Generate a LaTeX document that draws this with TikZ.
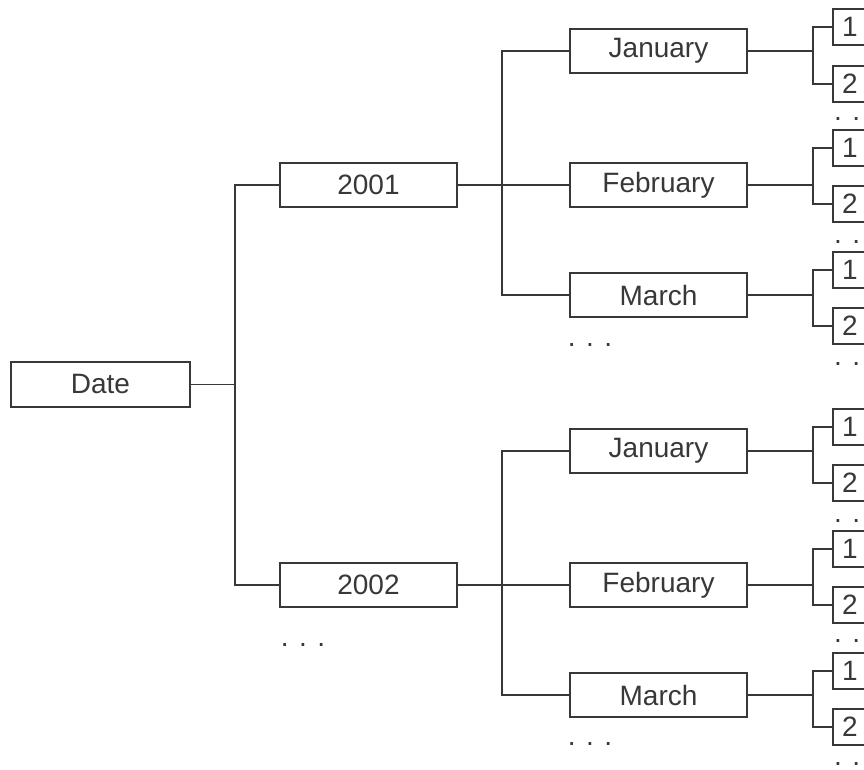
\documentclass[tikz,border=0pt]{standalone}
\usepackage{fontspec}
\setmainfont{Liberation Sans}
\begin{document}
\begin{tikzpicture}[x=1pt,y=-1pt,
  every node/.style={font=\fontsize{28}{30}\selectfont, text=black!78},
  bigbox/.style={draw=black!78, line width=1.7pt, minimum width=177pt, minimum height=44pt, inner sep=0pt},
  daybox/.style={draw=black!78, line width=1.7pt, minimum width=34pt, minimum height=36pt, inner sep=0pt, anchor=west},
  conn/.style={draw=black!78, line width=1.7pt},
  dots/.style={inner sep=0pt, anchor=base},
  rdots/.style={inner sep=0pt, anchor=base west}]
\useasboundingbox (0,0) rectangle (864,770);
\clip (0,0) rectangle (864,770);
\fill[white] (0,0) rectangle (864,770);

% root
\node[bigbox, minimum width=179pt, minimum height=45pt] (date) at (100.5,384.5) {Date};
% years
\node[bigbox] (y1) at (368.5,185) {2001};
\node[bigbox] (y2) at (368.5,585) {2002};
\node[dots] (yd) at (303,646) {. . .};
% months
\node[bigbox] (m11) at (658.5,51) {January};
\node[bigbox] (m12) at (658.5,185) {February};
\node[bigbox] (m13) at (658.5,295) {March};
\node[dots] (md1) at (590,346) {. . .};
\node[bigbox] (m21) at (658.5,451) {January};
\node[bigbox] (m22) at (658.5,585) {February};
\node[bigbox] (m23) at (658.5,695) {March};
\node[dots] (md2) at (590,745) {. . .};

% days
\node[daybox] (d111) at (832,27) {1};
\node[daybox] (d112) at (832,84) {2};
\node[rdots] (dd11) at (834,121) {. .};
\node[daybox] (d121) at (832,148) {1};
\node[daybox] (d122) at (832,204) {2};
\node[rdots] (dd12) at (834,243) {. .};
\node[daybox] (d131) at (832,270) {1};
\node[daybox] (d132) at (832,326) {2};
\node[rdots] (dd13) at (834,365) {. .};
\node[daybox] (d211) at (832,427) {1};
\node[daybox] (d212) at (832,483) {2};
\node[rdots] (dd21) at (834,522) {. .};
\node[daybox] (d221) at (832,549) {1};
\node[daybox] (d222) at (832,605) {2};
\node[rdots] (dd22) at (834,642) {. .};
\node[daybox] (d231) at (832,671) {1};
\node[daybox] (d232) at (832,727) {2};
\node[rdots] (dd23) at (834,765) {. .};

% trunk coordinates
\coordinate (t0) at (235,384.5);
\coordinate (t1) at (502,185);
\coordinate (t2) at (502,585);
\coordinate (s11) at (813,51);
\coordinate (s12) at (813,185);
\coordinate (s13) at (813,295);
\coordinate (s21) at (813,451);
\coordinate (s22) at (813,585);
\coordinate (s23) at (813,695);

% connectors
\draw[conn] (date.east) -- (t0);
\draw[conn] (y1.west) -| (t0) |- (y2.west);

\draw[conn] (y1.east) -- (m12.west);
\draw[conn] (m11.west) -| (t1) |- (m13.west);
\draw[conn] (y2.east) -- (m22.west);
\draw[conn] (m21.west) -| (t2) |- (m23.west);

\foreach \g in {11,12,13,21,22,23}{
  \draw[conn] (m\g.east) -- (s\g);
  \draw[conn] (d\g1.west) -| (s\g) |- (d\g2.west);
}
\end{tikzpicture}
\end{document}
